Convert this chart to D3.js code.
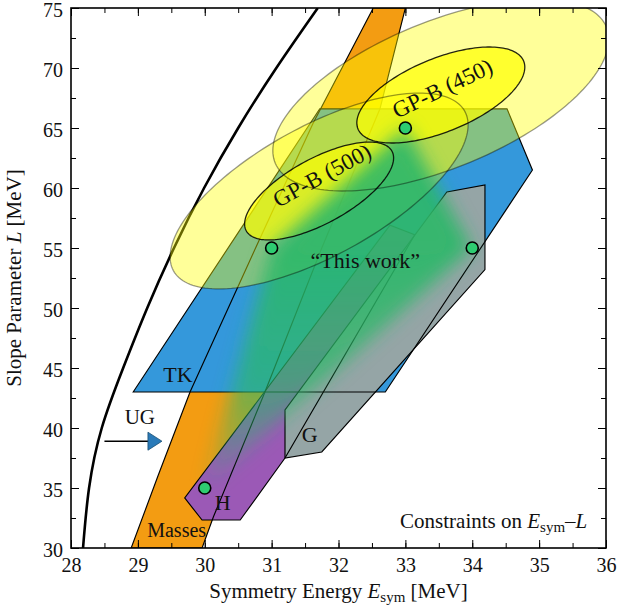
<!DOCTYPE html>
<html>
<head>
<meta charset="utf-8">
<script src="https://cdn.jsdelivr.net/npm/d3@7"></script>
<style>
  body { margin: 0; background: #fff; }
  #chart { width: 617px; height: 612px; }
  text { font-family: 'Liberation Serif', 'Times New Roman', serif; fill: #111; }
  .axis path.domain { display: none; }
  .axis line { stroke: #000; stroke-width: 1; }
  .axis text { font-size: 20px; fill: #111; }
</style>
</head>
<body>
<div id="chart"></div>
<script>
// Axis ticks
const xTicks = [28, 29, 30, 31, 32, 33, 34, 35, 36];
const yTicks = [30, 35, 40, 45, 50, 55, 60, 65, 70, 75];

// Unitary gas (UG) bound: E_sym values along L
const ugL = [30, 35, 40, 45, 50, 55, 60, 65, 70, 75];
const ugE = [28.18, 28.27, 28.46, 28.78, 29.14, 29.54, 29.99, 30.50, 31.07, 31.69];
const ugArrowE = [28.5, 29.36];
const ugArrowL = 38.9;

// Masses band (left edge bottom->top, right edge bottom->top)
const massesLeftE = [28.9, 29.3, 29.78, 30.76, 31.62, 32.52];
const massesLeftL = [30, 36, 43, 55, 65.4, 75];
const massesRightE = [29.96, 30.13, 30.9, 31.75, 32.62, 33.0];
const massesRightL = [30, 32.6, 43, 55, 66.6, 75];

// TK polygon
const tkE = [28.93, 31.72, 34.52, 34.9, 32.7];
const tkL = [43, 66.6, 66.6, 61.5, 43];

// H polygon
const hE = [29.70, 29.96, 30.53, 31.2, 33.14, 32.77];
const hL = [34.17, 32.33, 32.33, 37.5, 56.1, 56.9];

// G polygon
const gE = [31.2, 31.2, 31.75, 34.19, 34.19, 33.62];
const gL = [41.5, 37.5, 38.0, 53.2, 60.25, 59.67];

// GP-B gaussian constraints
const gpbNames = ['GP-B (500)', 'GP-B (450)'];
const gpbMeanE = [31.71, 33.53];
const gpbMeanL = [59.75, 67.75];
const gpbSigE = [1.114, 1.256];
const gpbSigL = [4.08, 4.0];
const gpbRho = [0.674, 0.58];

// "This work" corner points
const thisWorkE = [30, 31, 33, 34];
const thisWorkL = [35, 55, 65, 55];

class ConstraintPlot {

    constructor(selection, config = {}) {
        let self = this;
        this.selection = selection;

        this.cfg = {
            'width': 617,
            'height': 612,
            'margin': {'top': 8, 'right': 11, 'bottom': 64, 'left': 71},
            'colors': {
                'masses': '#f39c12',
                'tk': '#3498db',
                'h': '#9b59b6',
                'g': '#95a5a6',
                'gpb': '#ffff00',
                'dot': '#2ecc71',
                'wash': '#2bb868',
                'arrow': '#2a7ab8'
            },
            'blur': 9
        };
        Object.keys(config).forEach(function(key) { self.cfg[key] = config[key]; });

        this.w = this.cfg.width - this.cfg.margin.left - this.cfg.margin.right;
        this.h = this.cfg.height - this.cfg.margin.top - this.cfg.margin.bottom;

        this.x = d3.scaleLinear().domain([28, 36]).range([0, this.w]);
        this.y = d3.scaleLinear().domain([30, 75]).range([this.h, 0]);

        this.line = d3.line()
            .x(function(d){ return self.x(d[0]); })
            .y(function(d){ return self.y(d[1]); });

        this.initGraph();
    }

    poly(es, ls) {
        return this.line(es.map(function(e, i){ return [e, ls[i]]; })) + 'Z';
    }

    massesPath() {
        let pts = massesLeftE.map(function(e, i){ return [e, massesLeftL[i]]; });
        let right = massesRightE.map(function(e, i){ return [e, massesRightL[i]]; }).reverse();
        return this.line(pts.concat(right)) + 'Z';
    }

    ellipsePath(i, k) {
        let pts = d3.range(0, 181).map(function(j){
            let t = j / 180 * 2 * Math.PI;
            return [gpbMeanE[i] + k * gpbSigE[i] * Math.cos(t),
                    gpbMeanL[i] + k * gpbSigL[i] * (gpbRho[i] * Math.cos(t) + Math.sqrt(1 - gpbRho[i] * gpbRho[i]) * Math.sin(t))];
        });
        return this.line(pts) + 'Z';
    }

    initGraph() {
        let self = this;
        let c = this.cfg.colors;

        this.svg = this.selection.append('svg')
            .attr('width', this.cfg.width)
            .attr('height', this.cfg.height);

        let defs = this.svg.append('defs');
        defs.append('clipPath').attr('id', 'plotclip')
            .append('rect').attr('width', this.w).attr('height', this.h);

        defs.append('filter').attr('id', 'washblur')
            .attr('x', '-40%').attr('y', '-40%').attr('width', '180%').attr('height', '180%')
            .append('feGaussianBlur').attr('stdDeviation', this.cfg.blur);

        // the combined region fades out towards its low-L corner
        let grad = defs.append('linearGradient').attr('id', 'washgrad')
            .attr('gradientUnits', 'userSpaceOnUse')
            .attr('x1', 0).attr('x2', 0)
            .attr('y1', this.y(35)).attr('y2', this.y(55));
        grad.append('stop').attr('offset', 0).attr('stop-color', c.wash).attr('stop-opacity', 0.15);
        grad.append('stop').attr('offset', 0.45).attr('stop-color', c.wash).attr('stop-opacity', 0.68);
        grad.append('stop').attr('offset', 1).attr('stop-color', c.wash).attr('stop-opacity', 0.9);

        // union of all constraints, the combined region only shows inside it
        let union = defs.append('clipPath').attr('id', 'unionclip');
        union.append('path').attr('d', this.massesPath());
        union.append('path').attr('d', this.poly(tkE, tkL));
        union.append('path').attr('d', this.poly(hE, hL));
        union.append('path').attr('d', this.poly(gE, gL));
        gpbNames.forEach(function(n, i){ union.append('path').attr('d', self.ellipsePath(i, 2)); });

        this.g = this.svg.append('g')
            .attr('transform', 'translate(' + this.cfg.margin.left + ',' + this.cfg.margin.top + ')');

        let plot = this.g.append('g').attr('clip-path', 'url(#plotclip)');

        // UG curve
        plot.append('path')
            .attr('d', d3.line()
                .x(function(d){ return self.x(d[0]); })
                .y(function(d){ return self.y(d[1]); })
                .curve(d3.curveNatural)(ugE.map(function(e, i){ return [e, ugL[i]]; })))
            .attr('fill', 'none').attr('stroke', '#000').attr('stroke-width', 2.6);

        // FILLS
        plot.append('path').attr('d', this.massesPath()).attr('fill', c.masses);
        plot.append('path').attr('d', this.poly(tkE, tkL)).attr('fill', c.tk);
        plot.append('path').attr('d', this.poly(hE, hL)).attr('fill', c.h);
        plot.append('path').attr('d', this.poly(gE, gL)).attr('fill', c.g);

        // OUTLINES
        [this.massesPath(), this.poly(tkE, tkL), this.poly(hE, hL), this.poly(gE, gL)].forEach(function(d){
            plot.append('path').attr('d', d).attr('fill', 'none')
                .attr('stroke', '#000').attr('stroke-width', 1.15).attr('stroke-linejoin', 'miter');
        });

        // GP-B ellipses
        gpbNames.forEach(function(n, i){
            plot.append('path').attr('d', self.ellipsePath(i, 2))
                .attr('fill', c.gpb).attr('fill-opacity', 0.4);
        });
        gpbNames.forEach(function(n, i){
            plot.append('path').attr('d', self.ellipsePath(i, 1))
                .attr('fill', c.gpb).attr('fill-opacity', 0.7);
        });

        // "This work" combined region
        plot.append('g').attr('clip-path', 'url(#unionclip)')
            .append('path')
            .attr('d', this.poly(thisWorkE, thisWorkL))
            .attr('fill', 'url(#washgrad)')
            .attr('filter', 'url(#washblur)');

        // ellipse edges
        gpbNames.forEach(function(n, i){
            plot.append('path').attr('d', self.ellipsePath(i, 2))
                .attr('fill', 'none').attr('stroke', '#000').attr('stroke-opacity', 0.4).attr('stroke-width', 1.3);
            plot.append('path').attr('d', self.ellipsePath(i, 1))
                .attr('fill', 'none').attr('stroke', '#000').attr('stroke-opacity', 0.85).attr('stroke-width', 1.3);
        });

        // UG arrow
        let ay = this.y(ugArrowL);
        plot.append('line')
            .attr('x1', this.x(ugArrowE[0])).attr('x2', this.x(ugArrowE[1]) - 10)
            .attr('y1', ay).attr('y2', ay)
            .attr('stroke', '#000').attr('stroke-width', 1.6);
        let tip = this.x(ugArrowE[1]);
        plot.append('path')
            .attr('d', 'M' + tip + ',' + ay + 'L' + (tip - 14) + ',' + (ay - 9) + 'L' + (tip - 14) + ',' + (ay + 9) + 'Z')
            .attr('fill', c.arrow).attr('stroke', '#1b4f72').attr('stroke-width', 0.8);

        // POINTS
        plot.selectAll('.dot')
            .data(thisWorkE).enter()
            .append('circle')
            .attr('class', 'dot')
            .attr('cx', function(d){ return self.x(d); })
            .attr('cy', function(d, i){ return self.y(thisWorkL[i]); })
            .attr('r', 6)
            .attr('fill', c.dot).attr('stroke', '#000').attr('stroke-width', 1.6);

        // LABELS
        let label = function(e, l, txt, size, anchor) {
            return self.g.append('text')
                .attr('x', self.x(e)).attr('y', self.y(l))
                .attr('text-anchor', anchor || 'middle')
                .style('font-size', size + 'px')
                .text(txt);
        };
        label(29.6, 43.8, 'TK', 22);
        label(29.58, 30.9, 'Masses', 20);
        label(30.27, 33.2, 'H', 22);
        label(31.57, 38.8, 'G', 22);
        label(29.03, 40.3, 'UG', 21);
        label(32.4, 53.3, '\u201CThis work\u201D', 22);

        let gpbText = [[31.75, 61.08, -28.6], [33.55, 68.33, -25.6]];
        gpbNames.forEach(function(n, i){
            let px = self.x(gpbText[i][0]), py = self.y(gpbText[i][1]);
            self.g.append('text')
                .attr('transform', 'translate(' + px + ',' + py + ') rotate(' + gpbText[i][2] + ')')
                .attr('text-anchor', 'middle')
                .attr('dy', '0.35em')
                .style('font-size', '23px')
                .text(n);
        });

        let cons = this.g.append('text')
            .attr('x', this.x(35.72)).attr('y', this.y(31.67))
            .attr('text-anchor', 'end')
            .style('font-size', '21px');
        cons.append('tspan').text('Constraints on ');
        cons.append('tspan').style('font-style', 'italic').text('E');
        cons.append('tspan').style('font-size', '15px').attr('dy', 4).text('sym');
        cons.append('tspan').attr('dy', -4).text('\u2013');
        cons.append('tspan').style('font-style', 'italic').text('L');

        // AXES (ticks inward on all sides)
        let xMinor = d3.range(28, 36.01, 0.5);
        let yMinor = d3.range(30, 75.01, 2.5);

        this.g.append('g').attr('class', 'axis')
            .attr('transform', 'translate(0,' + this.h + ')')
            .call(d3.axisBottom(this.x).tickValues(xMinor).tickSize(-5).tickFormat(''));
        this.g.append('g').attr('class', 'axis')
            .attr('transform', 'translate(0,' + this.h + ')')
            .call(d3.axisBottom(this.x).tickValues(xTicks).tickSize(-8).tickPadding(10).tickFormat(d3.format('d')));
        this.g.append('g').attr('class', 'axis')
            .call(d3.axisTop(this.x).tickValues(xMinor).tickSize(-5).tickFormat(''));
        this.g.append('g').attr('class', 'axis')
            .call(d3.axisTop(this.x).tickValues(xTicks).tickSize(-8).tickFormat(''));

        this.g.append('g').attr('class', 'axis')
            .call(d3.axisLeft(this.y).tickValues(yMinor).tickSize(-5).tickFormat(''));
        this.g.append('g').attr('class', 'axis axis--y')
            .call(d3.axisLeft(this.y).tickValues(yTicks).tickSize(-8).tickPadding(8).tickFormat(d3.format('d')));
        this.g.selectAll('.axis--y text').attr('dy', '0.42em');
        this.g.append('g').attr('class', 'axis')
            .attr('transform', 'translate(' + this.w + ',0)')
            .call(d3.axisRight(this.y).tickValues(yMinor).tickSize(-5).tickFormat(''));
        this.g.append('g').attr('class', 'axis')
            .attr('transform', 'translate(' + this.w + ',0)')
            .call(d3.axisRight(this.y).tickValues(yTicks).tickSize(-8).tickFormat(''));

        this.g.append('rect')
            .attr('width', this.w).attr('height', this.h)
            .attr('fill', 'none').attr('stroke', '#000').attr('stroke-width', 1.6);

        // AXIS TITLES
        let xt = this.g.append('text')
            .attr('x', this.w / 2).attr('y', this.h + 50)
            .attr('text-anchor', 'middle')
            .style('font-size', '21px');
        xt.append('tspan').text('Symmetry Energy ');
        xt.append('tspan').style('font-style', 'italic').text('E');
        xt.append('tspan').style('font-size', '15px').attr('dy', 4).text('sym');
        xt.append('tspan').attr('dy', -4).text(' [MeV]');

        let yt = this.g.append('text')
            .attr('transform', 'translate(' + (-50) + ',' + (this.h / 2) + ') rotate(-90)')
            .attr('text-anchor', 'middle')
            .style('font-size', '21px');
        yt.append('tspan').text('Slope Parameter ');
        yt.append('tspan').style('font-style', 'italic').text('L');
        yt.append('tspan').text(' [MeV]');
    }
}

new ConstraintPlot(d3.select('#chart'));
</script>
</body>
</html>
